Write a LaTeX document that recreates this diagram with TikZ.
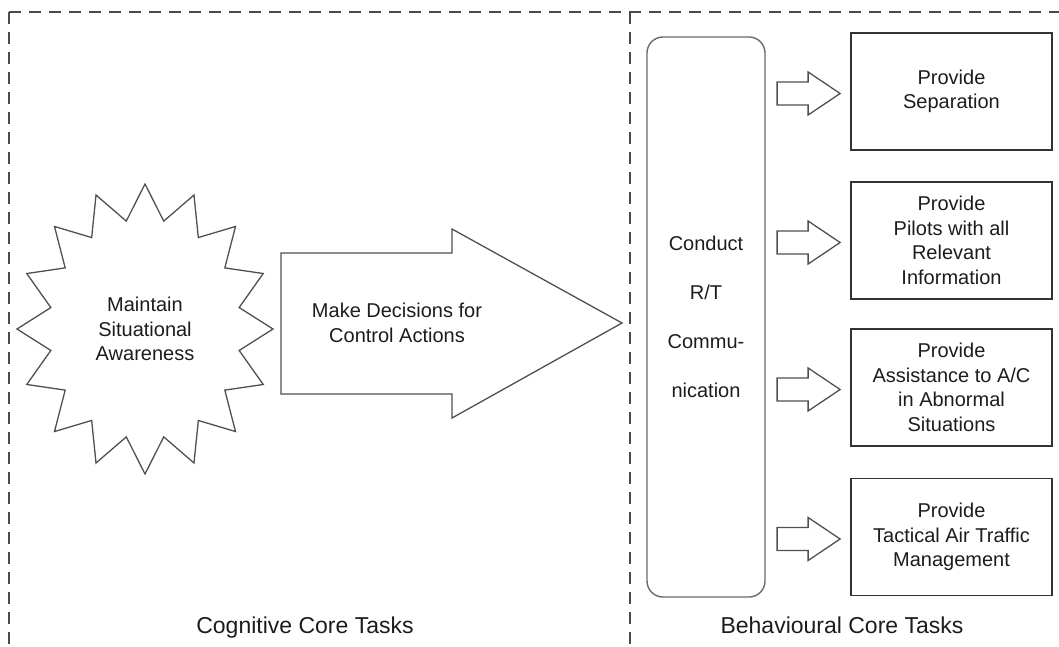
\documentclass[tikz,border=0pt]{standalone}
\usepackage{fontspec}
\setmainfont{Liberation Sans}
\usetikzlibrary{calc}
\definecolor{framegray}{HTML}{4A4A4A}
\definecolor{shapegray}{HTML}{505050}
\definecolor{boxgray}{HTML}{333333}
\definecolor{inkdark}{HTML}{1C1C1C}
\begin{document}
\begin{tikzpicture}[x=1pt,y=-1pt,
  frameline/.style={draw=framegray, line width=1.9pt, dash pattern=on 12pt off 8pt},
  outline/.style={draw=shapegray, line width=1.3pt, line join=miter},
  label/.style={text=inkdark, align=center, inner sep=0pt,
                font=\fontsize{20}{24.5}\selectfont},
  taskbox/.style={draw=boxgray, line width=1.8pt, text=inkdark, align=center,
                  minimum width=201pt, minimum height=117pt, inner sep=0pt,
                  font=\fontsize{20}{24.5}\selectfont},
  commbox/.style={draw=shapegray!85, line width=1.4pt, rounded corners=16pt,
                  text=inkdark, align=center, minimum width=118pt,
                  minimum height=560pt, inner sep=0pt,
                  font=\fontsize{20}{49}\selectfont},
  caption/.style={text=inkdark, inner sep=0pt, anchor=base,
                  font=\fontsize{23}{28}\selectfont}
]
\useasboundingbox (0,0) rectangle (1059,646);

% dashed partition of the two task groups
\draw[frameline] (9,12) -- (1059,12);
\draw[frameline] (9,12) -- (9,646);
\draw[frameline] (630,12) -- (630,646);

% cognitive side: awareness star
\node[label] (sa) at (145,329) {Maintain\\Situational\\Awareness};
\begin{scope}[shift={(sa.center)}]
  \draw[outline] (90:128 and 145)
    \foreach \k in {0,...,14} {
      -- ({101.25+22.5*\k}:96 and 110) -- ({112.5+22.5*\k}:128 and 145)
    } -- ({438.75}:96 and 110) -- cycle;
\end{scope}

% decision block arrow
\node[label] (md) at (397,323) {Make Decisions for\\Control Actions};
\draw[outline] (281,253) -- (452,253) -- (452,229) -- (622,323)
  -- (452,418) -- (452,394) -- (281,394) -- cycle;

% behavioural side
\node[commbox] (rt) at (706,317) {Conduct\\R/T\\Commu-\\nication};

\node[taskbox] (b1) at (951.5,91.5)  {Provide\\Separation};
\node[taskbox] (b2) at (951.5,240.5) {Provide\\Pilots with all\\Relevant\\Information};
\node[taskbox] (b3) at (951.5,387.5) {Provide\\Assistance to A/C\\in Abnormal\\Situations};
\node[taskbox] (b4) at (951.5,537)   {Provide\\Tactical Air Traffic\\Management};

% hollow arrows leading from the R/T block to each task
\foreach \b in {b1,b2,b3,b4} {
  \begin{scope}[shift={($(\b.west)+(-10,2)$)}]
    \draw[outline] (-63,-11.5) -- (-32,-11.5) -- (-32,-21.5) -- (0,0)
      -- (-32,21.5) -- (-32,11.5) -- (-63,11.5) -- cycle;
  \end{scope}
}

% group captions
\node[caption] (cog) at (305,633) {Cognitive Core Tasks};
\node[caption] (beh) at (842,633) {Behavioural Core Tasks};
\end{tikzpicture}
\end{document}
